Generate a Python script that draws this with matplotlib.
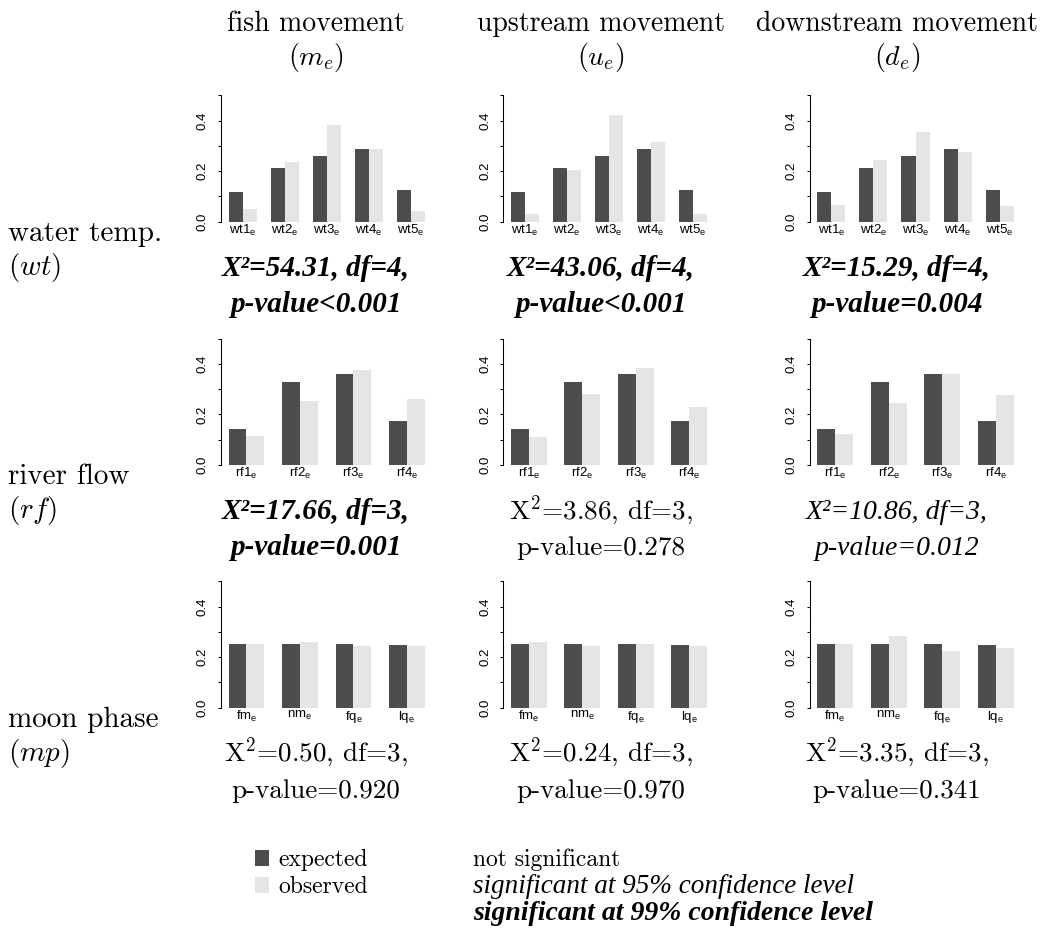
import matplotlib
matplotlib.use("Agg")
import matplotlib.pyplot as plt
from matplotlib.patches import Rectangle

plt.rcParams['mathtext.fontset'] = 'cm'
plt.rcParams['axes.unicode_minus'] = False

# ---- data ----
col_names = ["fish movement", "upstream movement", "downstream movement"]
col_symbols = [r"$(m_e)$", r"$(u_e)$", r"$(d_e)$"]
row_names = ["water temp.", "river flow", "moon phase"]
row_symbols = [r"$(wt)$", r"$(rf)$", r"$(mp)$"]

wt_labels = ["wt1", "wt2", "wt3", "wt4", "wt5"]
rf_labels = ["rf1", "rf2", "rf3", "rf4"]
mp_labels = ["fm", "nm", "fq", "lq"]

wt_expected = [0.117, 0.212, 0.259, 0.287, 0.125]
wt_observed_m = [0.050, 0.236, 0.383, 0.287, 0.044]
wt_observed_u = [0.030, 0.204, 0.422, 0.314, 0.030]
wt_observed_d = [0.066, 0.243, 0.354, 0.275, 0.062]

rf_expected = [0.141, 0.327, 0.358, 0.174]
rf_observed_m = [0.114, 0.253, 0.375, 0.261]
rf_observed_u = [0.111, 0.280, 0.383, 0.229]
rf_observed_d = [0.122, 0.245, 0.359, 0.276]

mp_expected = [0.252, 0.252, 0.252, 0.248]
mp_observed_m = [0.252, 0.260, 0.245, 0.245]
mp_observed_u = [0.260, 0.245, 0.252, 0.245]
mp_observed_d = [0.252, 0.284, 0.225, 0.237]

chi2 = [[54.31, 43.06, 15.29], [17.66, 3.86, 10.86], [0.50, 0.24, 3.35]]
dfs = [4, 3, 3]
p_labels = [["<0.001", "<0.001", "=0.004"],
            ["=0.001", "=0.278", "=0.012"],
            ["=0.920", "=0.970", "=0.341"]]
p_values = [[0.001, 0.001, 0.004], [0.001, 0.278, 0.012], [0.920, 0.970, 0.341]]

DARK = "#4d4d4d"
LIGHT = "#e5e5e5"

W, H = 1052, 939
fig = plt.figure(figsize=(W / 100, H / 100), dpi=100)


def fx(px):
    return px / W


def fy(py):
    return 1 - py / H


def draw_panel(ax, labels, expected, observed):
    n = len(labels)
    left = [1 + 3 * i for i in range(n)]
    ax.bar(left, expected, width=1, align='edge', color=DARK, linewidth=0)
    ax.bar([l + 1 for l in left], observed, width=1, align='edge', color=LIGHT, linewidth=0)
    pad = 0.04 * (3 * n - 1)
    ax.set_xlim(1 - pad, 3 * n + pad)
    ax.set_ylim(0, 0.5)
    ax.set_xticks([l + 1 for l in left])
    ax.set_xticklabels([r"$\mathregular{%s_e}$" % s for s in labels],
                       family="Liberation Sans", fontsize=9.5)
    ax.set_yticks([0, 0.1, 0.2, 0.3, 0.4, 0.5])
    ax.set_yticklabels(["0.0", "", "0.2", "", "0.4", ""],
                       family="Liberation Sans", fontsize=9.5, va="center")
    ax.tick_params(axis='x', length=0, pad=1)
    ax.tick_params(axis='y', length=2.5, width=0.75, labelrotation=90, pad=6)
    for s in ["top", "right", "bottom"]:
        ax.spines[s].set_visible(False)
    ax.spines["left"].set_linewidth(0.75)
    ax.spines["left"].set_bounds(0, 0.5)
    ax.patch.set_alpha(0)


panels = [
    [(wt_labels, wt_expected, wt_observed_m), (wt_labels, wt_expected, wt_observed_u),
     (wt_labels, wt_expected, wt_observed_d)],
    [(rf_labels, rf_expected, rf_observed_m), (rf_labels, rf_expected, rf_observed_u),
     (rf_labels, rf_expected, rf_observed_d)],
    [(mp_labels, mp_expected, mp_observed_m), (mp_labels, mp_expected, mp_observed_u),
     (mp_labels, mp_expected, mp_observed_d)],
]

axis_x = [220.7, 503, 809.5]
row_base = [221.7, 465, 707.7]
ax_w, ax_h = 212, 126.5
text_x = [316, 601, 897]

for r in range(3):
    for c in range(3):
        ax = fig.add_axes([fx(axis_x[c]), fy(row_base[r]), ax_w / W, ax_h / H])
        draw_panel(ax, *panels[r][c])

        p = p_values[r][c]
        line1 = "X\u00b2=%.2f, df=%d," % (chi2[r][c], dfs[r])
        line2 = "p-value" + p_labels[r][c]
        y1 = row_base[r] + 54
        y2 = row_base[r] + 90
        if p < 0.01:
            kw = dict(family="Liberation Serif", style="italic", weight="bold", fontsize=21)
        elif p < 0.05:
            kw = dict(family="Liberation Serif", style="italic", fontsize=20)
        else:
            kw = dict(family="cmr10", fontsize=19.5)
            line1 = r"$\mathrm{X}^2$=%.2f, df=%d," % (chi2[r][c], dfs[r])
        fig.text(fx(text_x[c]), fy(y1), line1, ha="center", va="baseline", **kw)
        fig.text(fx(text_x[c]), fy(y2), line2, ha="center", va="baseline", **kw)

# column headers
for c in range(3):
    fig.text(fx(text_x[c]), fy(31), col_names[c], ha="center", va="baseline",
             family="cmr10", fontsize=20)
    fig.text(fx(text_x[c]), fy(65), col_symbols[c], ha="center", va="baseline",
             fontsize=20)

# row headers
for r in range(3):
    fig.text(fx(8), fy(row_base[r] + 19), row_names[r], ha="left", va="baseline",
             family="cmr10", fontsize=21)
    fig.text(fx(8), fy(row_base[r] + 53), row_symbols[r], ha="left", va="baseline",
             fontsize=21)

# legend
leg_y = [866, 893, 920]
fig.add_artist(Rectangle((fx(255), fy(leg_y[0])), 14 / W, 16 / H,
                         transform=fig.transFigure, color=DARK, lw=0))
fig.add_artist(Rectangle((fx(255), fy(leg_y[1])), 14 / W, 16 / H,
                         transform=fig.transFigure, color=LIGHT, lw=0))
fig.text(fx(278), fy(leg_y[0]), "expected", va="baseline", family="cmr10", fontsize=17)
fig.text(fx(278), fy(leg_y[1]), "observed", va="baseline", family="cmr10", fontsize=17)
fig.text(fx(473), fy(leg_y[0]), "not significant", va="baseline", family="cmr10", fontsize=17)
fig.text(fx(473), fy(leg_y[1]), "significant at 95% confidence level", va="baseline",
         family="Liberation Serif", style="italic", fontsize=19.5)
fig.text(fx(473), fy(leg_y[2]), "significant at 99% confidence level", va="baseline",
         family="Liberation Serif", style="italic", weight="bold", fontsize=20)

fig.savefig("out.png", dpi=100)
